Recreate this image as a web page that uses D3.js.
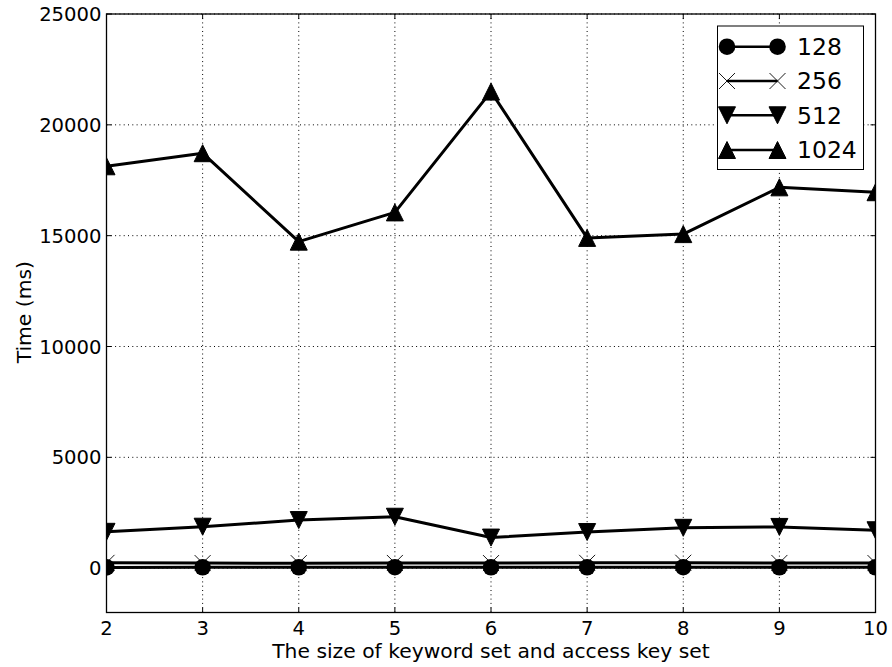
<!DOCTYPE html>
<html>
<head>
<meta charset="utf-8">
<script src="https://cdn.jsdelivr.net/npm/d3@7"></script>
<style>
  html, body { margin: 0; padding: 0; background: #fff; }
  svg { display: block; font-family: "DejaVu Sans", sans-serif; }
</style>
</head>
<body>
<svg id="chart" width="892" height="667"></svg>
<script>
const categories = [2, 3, 4, 5, 6, 7, 8, 9, 10];
const seriesNames = ["128", "256", "512", "1024"];
const values128 = [35, 40, 38, 42, 40, 41, 44, 39, 40];
const values256 = [240, 230, 225, 235, 230, 240, 245, 235, 230];
const values512 = [1640, 1870, 2170, 2320, 1380, 1630, 1820, 1860, 1710];
const values1024 = [18130, 18720, 14730, 16050, 21500, 14900, 15070, 17180, 16960];
const yTicks = [0, 5000, 10000, 15000, 20000, 25000];
const xTicks = [2, 3, 4, 5, 6, 7, 8, 9, 10];
const xLabel = "The size of keyword set and access key set";
const yLabel = "Time (ms)";

const series = [
  { name: seriesNames[0], values: values128, marker: "circle" },
  { name: seriesNames[1], values: values256, marker: "x" },
  { name: seriesNames[2], values: values512, marker: "tridown" },
  { name: seriesNames[3], values: values1024, marker: "triup" }
];

const svg = d3.select("#chart");
const margin = { left: 106.5, right: 892 - 875.5, top: 14, bottom: 667 - 612.5 };
const W = 892, H = 667;
const x = d3.scaleLinear().domain([2, 10]).range([margin.left, W - margin.right]);
const y = d3.scaleLinear().domain([-2000, 25000]).range([H - margin.bottom, margin.top]);

const tickFont = 19.6;
const labelFont = 20.3;
const legendFont = 23.5;

svg.append("defs").append("clipPath").attr("id", "clip")
  .append("rect")
  .attr("x", x.range()[0]).attr("y", y.range()[1])
  .attr("width", x.range()[1] - x.range()[0])
  .attr("height", y.range()[0] - y.range()[1]);

// grid
const grid = svg.append("g");
xTicks.forEach(t => {
  grid.append("line")
    .attr("x1", x(t)).attr("x2", x(t))
    .attr("y1", y.range()[0]).attr("y2", y.range()[1])
    .attr("stroke", "#000").attr("stroke-width", 1)
    .attr("stroke-dasharray", "1,3.3");
});
yTicks.forEach(t => {
  grid.append("line")
    .attr("x1", x.range()[0]).attr("x2", x.range()[1])
    .attr("y1", y(t)).attr("y2", y(t))
    .attr("stroke", "#000").attr("stroke-width", 1)
    .attr("stroke-dasharray", "1,3.3");
});

function markerPath(type, s) {
  const h = s / 2;
  if (type === "triup") return `M0,${-h}L${h},${h}L${-h},${h}Z`;
  if (type === "tridown") return `M0,${h}L${h},${-h}L${-h},${-h}Z`;
  if (type === "x") return `M${-h},${-h}L${h},${h}M${-h},${h}L${h},${-h}`;
  return null;
}

function drawMarker(g, type, cx, cy) {
  if (type === "circle") {
    g.append("circle").attr("cx", cx).attr("cy", cy).attr("r", 8.3).attr("fill", "#000");
  } else if (type === "x") {
    g.append("path").attr("d", markerPath("x", 16)).attr("transform", `translate(${cx},${cy})`)
      .attr("stroke", "#000").attr("stroke-width", 0.9).attr("fill", "none");
  } else {
    g.append("path").attr("d", markerPath(type, 17)).attr("transform", `translate(${cx},${cy})`)
      .attr("fill", "#000").attr("stroke", "#000").attr("stroke-width", 1);
  }
}

const plot = svg.append("g").attr("clip-path", "url(#clip)");
const line = d3.line().x((d, i) => x(categories[i])).y(d => y(d));

series.forEach(s => {
  const g = plot.append("g");
  g.append("path").attr("d", line(s.values))
    .attr("fill", "none").attr("stroke", "#000").attr("stroke-width", 3)
    .attr("stroke-linejoin", "round");
  s.values.forEach((v, i) => drawMarker(g, s.marker, x(categories[i]), y(v)));
});

// frame
svg.append("rect")
  .attr("x", x.range()[0]).attr("y", y.range()[1])
  .attr("width", x.range()[1] - x.range()[0])
  .attr("height", y.range()[0] - y.range()[1])
  .attr("fill", "none").attr("stroke", "#000").attr("stroke-width", 1.3);

// inward ticks
const tickLen = 5;
const ticks = svg.append("g").attr("stroke", "#000").attr("stroke-width", 1);
xTicks.forEach(t => {
  ticks.append("line").attr("x1", x(t)).attr("x2", x(t))
    .attr("y1", y.range()[0]).attr("y2", y.range()[0] - tickLen);
  ticks.append("line").attr("x1", x(t)).attr("x2", x(t))
    .attr("y1", y.range()[1]).attr("y2", y.range()[1] + tickLen);
});
yTicks.forEach(t => {
  ticks.append("line").attr("x1", x.range()[0]).attr("x2", x.range()[0] + tickLen)
    .attr("y1", y(t)).attr("y2", y(t));
  ticks.append("line").attr("x1", x.range()[1]).attr("x2", x.range()[1] - tickLen)
    .attr("y1", y(t)).attr("y2", y(t));
});

// tick labels
xTicks.forEach(t => {
  svg.append("text").attr("x", x(t)).attr("y", 635)
    .attr("text-anchor", "middle").attr("font-size", tickFont).text(t);
});
yTicks.forEach(t => {
  svg.append("text").attr("x", x.range()[0] - 5).attr("y", y(t))
    .attr("dy", "0.36em")
    .attr("text-anchor", "end").attr("font-size", tickFont).text(t);
});

// axis labels
svg.append("text").attr("x", (x.range()[0] + x.range()[1]) / 2).attr("y", 657.5)
  .attr("text-anchor", "middle").attr("font-size", labelFont).text(xLabel);
svg.append("text")
  .attr("transform", `translate(31,${(y.range()[0] + y.range()[1]) / 2 - 1}) rotate(-90)`)
  .attr("text-anchor", "middle").attr("font-size", labelFont).text(yLabel);

// legend
const lg = svg.append("g");
lg.append("rect").attr("x", 717.5).attr("y", 26).attr("width", 146).attr("height", 143.5)
  .attr("fill", "#fff").attr("stroke", "#000").attr("stroke-width", 1);
const rowY = [46.7, 81, 115.3, 150];
series.forEach((s, i) => {
  const cy = rowY[i];
  lg.append("line").attr("x1", 727).attr("x2", 777.5).attr("y1", cy).attr("y2", cy)
    .attr("stroke", "#000").attr("stroke-width", 2.5);
  drawMarker(lg, s.marker, 727, cy);
  drawMarker(lg, s.marker, 777.5, cy);
  lg.append("text").attr("x", 797).attr("y", cy).attr("dy", "0.36em")
    .attr("font-size", legendFont).text(s.name);
});
</script>
</body>
</html>
